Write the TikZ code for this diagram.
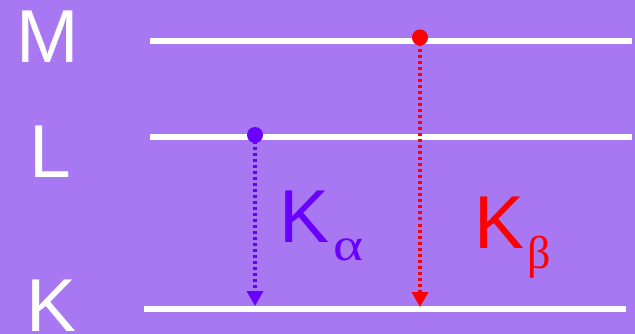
\documentclass[tikz,border=0pt]{standalone}
\usepackage{graphicx}
\usepackage{fontspec}
\setmainfont{Liberation Sans}
\newfontfamily\griega{Liberation Serif}
\usetikzlibrary{arrows.meta}

\definecolor{fondo}{HTML}{A877F2}
\definecolor{violeta}{HTML}{6A00FF}
\definecolor{rojo}{HTML}{FF0000}

\tikzset{
  nivel/.style={white, line width=6pt},
  etiqueta/.style={white, inner sep=0pt, anchor=base, font=\fontsize{75}{75}\selectfont},
  transicion/.style={line width=3.5pt, dash pattern=on 3pt off 3pt, -{Triangle[width=16pt,length=15pt]}},
  rayo/.style={inner sep=0pt, anchor=base west, font=\fontsize{75}{75}\selectfont}
}
% Subíndice griego de los rayos (separación, descenso, ancho, letra)
\newcommand{\letrasub}[4]{\kern#1\raisebox{-#2}{\scalebox{#3}[1]{\fontsize{46}{46}\selectfont\griega #4}}}

\begin{document}
\begin{tikzpicture}[x=1pt, y=-1pt]
  % Parámetros: alturas de los niveles M, L y K
  \def\yM{41}
  \def\yL{137.5}
  \def\yK{309}

  % Fondo y marco
  \useasboundingbox (0,0) rectangle (635,334);
  \fill[fondo] (0,0) rectangle (635,334);

  % Niveles de energía
  \draw[nivel] (150,\yM) -- (632,\yM);
  \draw[nivel] (150,\yL) -- (632,\yL);
  \draw[nivel] (144,\yK) -- (626,\yK);

  % Nombres de las capas
  \node[etiqueta] (capaM) at (48,63) {M};
  \node[etiqueta] (capaL) at (50,178) {L};
  \node[etiqueta] (capaK) at (51.5,331) {K};

  % Extremos de las transiciones
  \coordinate (inicioA) at (255,135);
  \coordinate (finA) at (255,306);
  \coordinate (inicioB) at (420,37.5);
  \coordinate (finB) at (420,307);

  % Transición K alfa (L -> K)
  \draw[transicion, violeta] (inicioA) -- (finA);
  \fill[violeta] (inicioA) circle (8);

  % Transición K beta (M -> K)
  \draw[transicion, rojo] (inicioB) -- (finB);
  \fill[rojo] (inicioB) circle (8);

  % Rótulos de las líneas
  \node[rayo, violeta] (kalfa) at (279,242) {K\letrasub{4pt}{18pt}{1.25}{α}};
  \node[rayo, rojo] (kbeta) at (474,248) {K\letrasub{3pt}{20pt}{1}{β}};
\end{tikzpicture}
\end{document}
